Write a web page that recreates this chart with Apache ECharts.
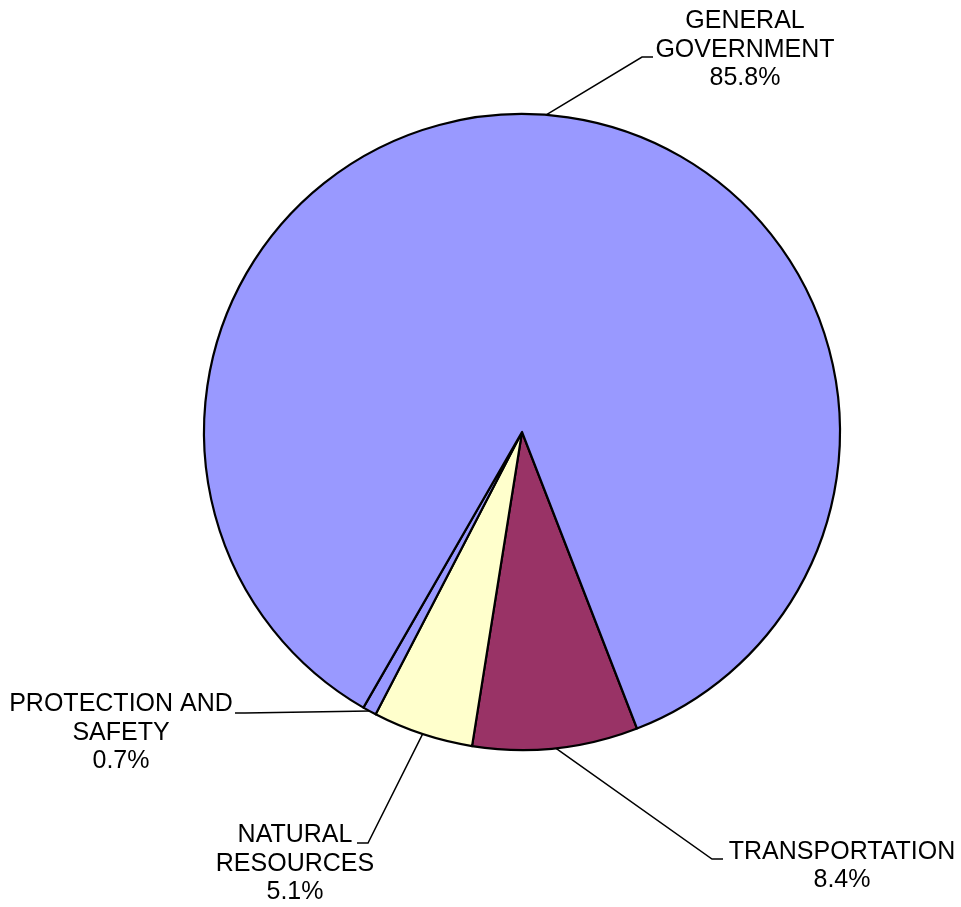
<!DOCTYPE html>
<html>
<head>
<meta charset="utf-8">
<title>Expenditures by Function</title>
<script src="https://cdn.jsdelivr.net/npm/echarts@6/dist/echarts.min.js"></script>
<style>
  html, body { margin: 0; padding: 0; background: #ffffff; }
  #chart { width: 961px; height: 907px; }
</style>
</head>
<body>
<div id="chart"></div>
<script>
// Share of spending by function, in percent (listed clockwise)
var categories = ['TRANSPORTATION', 'NATURAL\nRESOURCES', 'PROTECTION AND\nSAFETY', 'GENERAL\nGOVERNMENT'];
var shares = [8.4, 5.1, 0.7, 85.8];
var sliceColors = ['#993366', '#FFFFCC', '#9999FF', '#9999FF'];

// Where each label sits (text centre) and where its leader line bends / ends
var labelPlacement = [
  { x: 842, y: 866, bend: [712, 859], end: [723, 859] },
  { x: 295, y: 864, bend: [368, 843], end: [357, 843] },
  { x: 121, y: 733, bend: [245, 713], end: [235, 713] },
  { x: 745, y: 50,  bend: [642, 57],  end: [653, 57] }
];

var chart = echarts.init(document.getElementById('chart'), null, { renderer: 'canvas' });

var seriesData = categories.map(function (name, i) {
  return { name: name, value: shares[i], itemStyle: { color: sliceColors[i] } };
});

chart.setOption({
  backgroundColor: '#ffffff',
  animation: false,
  series: [{
    type: 'pie',
    center: [522, 432],
    radius: 318,
    startAngle: -68.8,
    clockwise: true,
    avoidLabelOverlap: false,
    data: seriesData,
    itemStyle: { borderColor: '#000000', borderWidth: 2.2 },
    label: {
      show: true,
      position: 'outside',
      formatter: function (p) { return p.name + '\n' + p.value.toFixed(1) + '%'; },
      fontFamily: 'Liberation Sans, Arial, sans-serif',
      fontSize: 25,
      lineHeight: 28.5,
      color: '#000000',
      align: 'center'
    },
    labelLine: {
      show: true,
      lineStyle: { color: '#000000', width: 1.5 }
    },
    labelLayout: function (params) {
      var cfg = labelPlacement[params.dataIndex];
      var start = params.labelLinePoints ? params.labelLinePoints[0] : cfg.bend;
      return {
        x: cfg.x,
        y: cfg.y,
        align: 'center',
        verticalAlign: 'middle',
        labelLinePoints: [start, cfg.bend, cfg.end]
      };
    },
    emphasis: { disabled: true }
  }]
});
</script>
</body>
</html>
